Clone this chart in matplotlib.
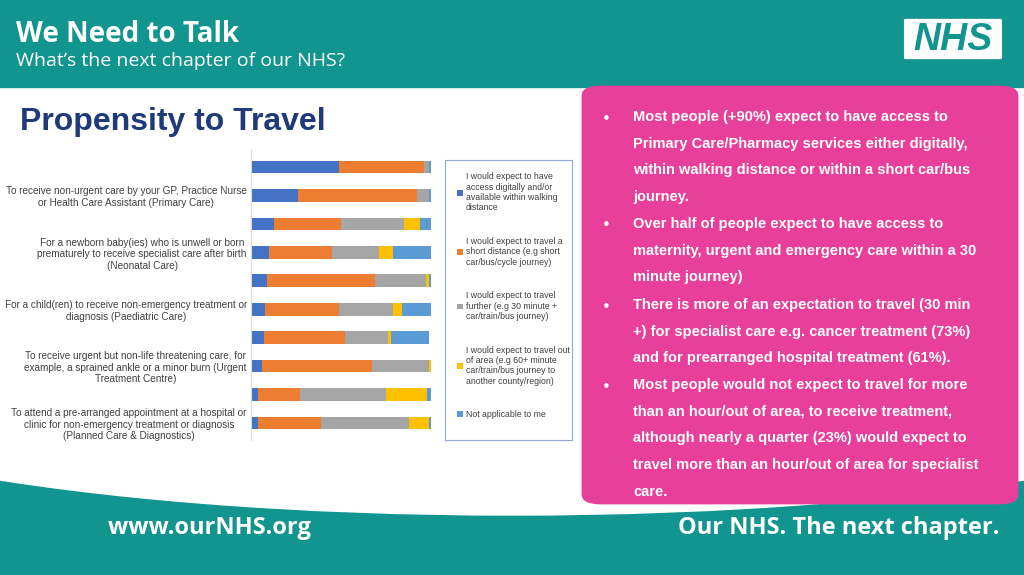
import matplotlib.pyplot as plt
from matplotlib.patches import Rectangle, FancyBboxPatch, Ellipse
import numpy as np

# top to bottom, percentages
labels = ['', 'To receive non-urgent care by your GP, Practice Nurse\nor Health Care Assistant (Primary Care)',
          '', 'For a newborn baby(ies) who is unwell or born\nprematurely to receive specialist care after birth\n(Neonatal Care)',
          '', 'For a child(ren) to receive non-emergency treatment or\ndiagnosis (Paediatric Care)',
          '', 'To receive urgent but non-life threatening care, for\nexample, a sprained ankle or a minor burn (Urgent\nTreatment Centre)',
          '', 'To attend a pre-arranged appointment at a hospital or\nclinic for non-emergency treatment or diagnosis\n(Planned Care & Diagnostics)']
digital = [49, 26, 13, 10, 9, 8, 7, 6, 4, 4]
short = [47, 66, 37, 35, 60, 41, 45, 61, 23, 35]
further = [3, 7, 35, 26, 28, 30, 24, 32, 48, 49]
out_area = [0, 0, 9, 8, 2, 5, 2, 1, 23, 11]
na = [1, 1, 6, 21, 1, 16, 21, 0.5, 2, 1]
series_names = ['I would expect to have\naccess digitally and/or\navailable within walking\ndistance',
                'I would expect to travel a\nshort distance (e.g short\ncar/bus/cycle journey)',
                'I would expect to travel\nfurther (e.g 30 minute +\ncar/train/bus journey)',
                'I would expect to travel out\nof area (e.g 60+ minute\ncar/train/bus journey to\nanother county/region)',
                'Not applicable to me']
colors = ['#4472C4', '#ED7D31', '#A5A5A5', '#FFC000', '#5B9BD5']
bullets = ['Most people (+90%) expect to have access to\nPrimary Care/Pharmacy services either digitally,\nwithin walking distance or within a short car/bus\njourney.',
           'Over half of people expect to have access to\nmaternity, urgent and emergency care within a 30\nminute journey)',
           'There is more of an expectation to travel (30 min\n+) for specialist care e.g. cancer treatment (73%)\nand for prearranged hospital treatment (61%).',
           'Most people would not expect to travel for more\nthan an hour/out of area, to receive treatment,\nalthough nearly a quarter (23%) would expect to\ntravel more than an hour/out of area for specialist\ncare.']

teal = '#12958F'
fig = plt.figure(figsize=(10.24, 5.75), dpi=100)
W, H = 1024, 575

def px(x, y):
    return x / W, 1 - y / H

# header
fig.patches.append(Rectangle((0, 1 - 87 / H), 1, 87 / H, transform=fig.transFigure, color=teal, zorder=0))
fig.text(*px(16, 34), 'We Need to Talk', color='white', fontsize=20, fontweight='bold', va='center', family='Open Sans')
fig.text(*px(16, 61), "What’s the next chapter of our NHS?", color='white', fontsize=14, va='center', family='Open Sans')
fig.patches.append(FancyBboxPatch(px(906, 58), 94 / W, 38 / H, boxstyle='round,pad=0.002', transform=fig.transFigure,
                                  facecolor='white', edgecolor='none'))
fig.text(*px(953, 40), 'NHS', color=teal, fontsize=27, fontweight='bold', style='italic', ha='center', va='center', family='Liberation Sans')

# bottom band with white curve
fig.patches.append(Rectangle((0, 0), 1, 100 / H, transform=fig.transFigure, color=teal, zorder=0))
fig.patches.append(Ellipse((0.5, 211 / H), 1600 / W, 302 / H, transform=fig.transFigure, color='white', zorder=0.5))
fig.text(*px(108, 528), 'www.ourNHS.org ', color='white', fontsize=17, fontweight='bold', va='center', family='Open Sans')
fig.text(*px(678, 528), 'Our NHS. The next chapter.', color='white', fontsize=17, fontweight='bold', va='center', family='Open Sans')

# pink box
fig.patches.append(FancyBboxPatch(px(600, 494), 400 / W, 398 / H, boxstyle='round,pad=0.018', transform=fig.transFigure,
                                  facecolor='#E8409A', edgecolor='none', zorder=1))
ys = [119, 226, 307, 387]
for y, b in zip(ys, bullets):
    fig.text(*px(602, y), '•', color='white', fontsize=11, va='center', zorder=2)
    fig.text(*px(633, y - 9), b, color='white', fontsize=10.5, fontweight='bold', va='top',
             linespacing=2.15, zorder=2, family='Liberation Sans')

fig.text(*px(20, 122), 'Propensity to Travel', color='#1F3A78', fontsize=23, fontweight='bold', va='center', family='Liberation Sans')

# chart
ax = fig.add_axes([251 / W, 1 - 440 / H, 180 / W, 290 / H], zorder=3)
ax.patch.set_alpha(0)
y = np.arange(len(labels))[::-1]
left = np.zeros(len(labels))
handles = []
for vals, c, n in zip([digital, short, further, out_area, na], colors, series_names):
    vals = np.array(vals, dtype=float)
    h = ax.barh(y, vals, left=left, color=c, height=0.45, label=n)
    handles.append(h)
    left += vals
ax.set_xlim(0, 100)
ax.set_ylim(-0.6, len(labels) - 0.4)
ax.set_yticks(y)
ax.set_yticklabels(labels, fontsize=7.2, color='#404040', family='Liberation Sans', multialignment='center')
ax.tick_params(length=0, pad=3)
ax.set_xticks([])
for s in ['top', 'right', 'bottom']:
    ax.spines[s].set_visible(False)
ax.spines['left'].set_color('#D9D9D9')

lax = fig.add_axes([445 / W, 1 - 440 / H, 127 / W, 280 / H], zorder=3)
lax.patch.set_alpha(0)
lax.set_xticks([]); lax.set_yticks([])
for s in lax.spines.values():
    s.set_color('#8EA9DB')
lax.legend(handles=handles, loc='upper left', frameon=False, handlelength=0.6,
           handleheight=0.6, labelspacing=2.8, borderpad=1.4, handletextpad=0.4,
           borderaxespad=0.0, prop={'family': 'Liberation Sans', 'size': 6.3})
for t in lax.get_legend().get_texts():
    t.set_color('#404040')

fig.savefig('out.png', dpi=100)
